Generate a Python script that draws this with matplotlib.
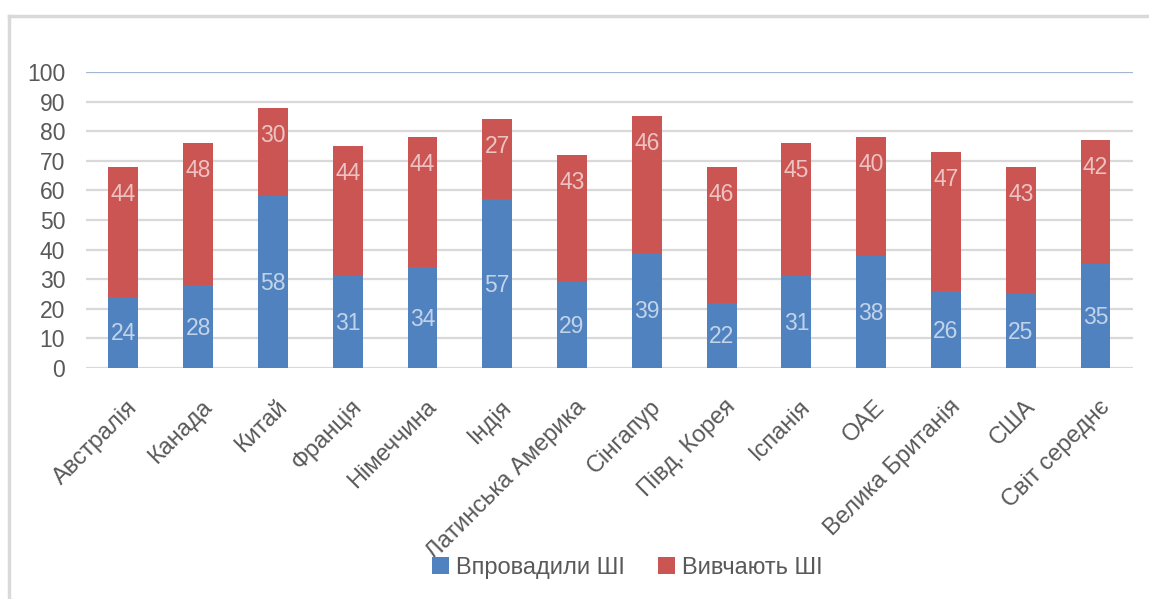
import matplotlib
matplotlib.use("Agg")
import matplotlib.pyplot as plt
import matplotlib.transforms as mtransforms
from matplotlib.patches import Patch
from matplotlib.lines import Line2D
import numpy as np

plt.rcParams['font.family'] = ['Liberation Sans', 'DejaVu Sans']

categories = ["Австралія", "Канада", "Китай", "Франція", "Німеччина", "Індія",
              "Латинська Америка", "Сінгапур", "Півд. Корея", "Іспанія", "ОАЕ",
              "Велика Британія", "США", "Світ середнє"]
adopted = [24, 28, 58, 31, 34, 57, 29, 39, 22, 31, 38, 26, 25, 35]
exploring = [44, 48, 30, 44, 44, 27, 43, 46, 46, 45, 40, 47, 43, 42]
series_names = ["Впровадили ШІ", "Вивчають ШІ"]
yticks = [0, 10, 20, 30, 40, 50, 60, 70, 80, 90, 100]

blue = "#5082c0"
red = "#cb5552"
txt = "#595959"
fs = 16.5

fig = plt.figure(figsize=(11.49, 5.99), dpi=100)
ax = fig.add_axes([0.0748, 0.3856, 0.9112, 0.4942])

x = np.arange(len(categories))
adopted_a = np.array(adopted, dtype=float)
exploring_a = np.array(exploring, dtype=float)
total = adopted_a + exploring_a

ax.set_xlim(-0.5, len(categories) - 0.5)
ax.set_ylim(0, 100)

for y in yticks:
    if y == 100:
        ax.axhline(y, color="#a3b7d2", lw=1.6, zorder=1)
    else:
        ax.axhline(y, color="#d9d9d9", lw=1.6, zorder=1)

ax.bar(x, adopted_a, width=0.4, color=blue, zorder=2)
ax.bar(x, exploring_a, width=0.4, bottom=adopted_a, color=red, zorder=2)

for i in range(len(categories)):
    ax.text(x[i], adopted_a[i] / 2 - 0.5, f"{adopted[i]}", ha="center", va="center",
            color="white", alpha=0.65, fontsize=fs, zorder=3)
    ax.text(x[i], total[i] - 9.3, f"{exploring[i]}", ha="center", va="center",
            color="white", alpha=0.65, fontsize=fs, zorder=3)

for s in ax.spines.values():
    s.set_visible(False)
ax.set_yticks(yticks)
ax.set_yticklabels([str(v) for v in yticks], fontsize=fs, color=txt)
ax.tick_params(axis="y", length=0, pad=15)
ax.set_xticks([])

offset = mtransforms.ScaledTranslation(3 / 100, -28 / 100, fig.dpi_scale_trans)
trans = mtransforms.blended_transform_factory(ax.transData, ax.transAxes) + offset
for i, c in enumerate(categories):
    ax.text(x[i], 0, c, transform=trans, rotation=45, rotation_mode="anchor",
            ha="right", va="top", fontsize=fs + 0.5, color=txt)

handles = [Patch(facecolor=blue, edgecolor="none"), Patch(facecolor=red, edgecolor="none")]
fig.legend(handles, series_names, loc="center", bbox_to_anchor=(0.546, 0.052),
           ncol=2, frameon=False, fontsize=fs + 0.5, labelcolor=txt,
           handlelength=0.7, handleheight=0.7, handletextpad=0.3, columnspacing=1.4)

# outer chart border (left and top)
fig.add_artist(Line2D([9 / 1149, 9 / 1149], [0, 1 - 16 / 599], transform=fig.transFigure,
                      color="#d9d9d9", lw=2.5))
fig.add_artist(Line2D([9 / 1149, 1], [1 - 16 / 599, 1 - 16 / 599], transform=fig.transFigure,
                      color="#d9d9d9", lw=2.5))

fig.savefig("out.png", dpi=100)
